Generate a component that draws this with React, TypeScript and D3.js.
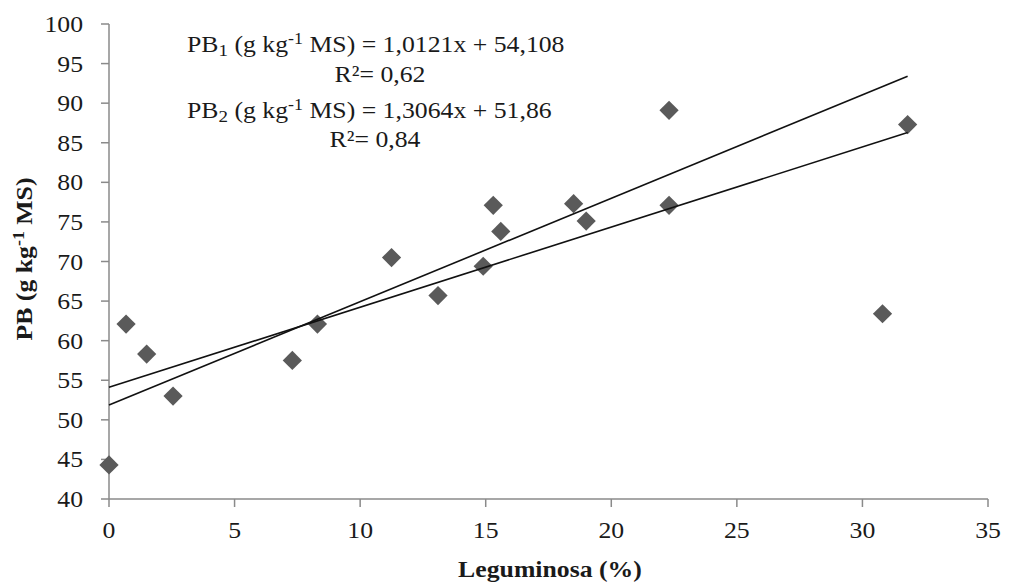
import React from 'react'
import * as d3 from 'd3'

// Leguminosa (%) vs PB (g kg-1 MS)
const leguminosa = [0, 0.68, 1.5, 2.55, 7.3, 8.3, 11.25, 13.1, 14.9, 15.3, 15.6, 18.5, 19.0, 22.3, 22.3, 30.8, 31.8]
const pb = [44.3, 62.1, 58.3, 53.0, 57.5, 62.1, 70.5, 65.7, 69.4, 77.1, 73.8, 77.3, 75.1, 89.1, 77.1, 63.4, 87.3]

// regression lines (slope, intercept)
const fits = [
  { slope: 1.0121, intercept: 54.108 },
  { slope: 1.3064, intercept: 51.86 },
]

const xTicks = [0, 5, 10, 15, 20, 25, 30, 35]
const yTicks = [40, 45, 50, 55, 60, 65, 70, 75, 80, 85, 90, 95, 100]

const W = 1014, H = 586
const margin = { top: 24, right: 26, bottom: 87, left: 109 }
const FS = 23
const SX = 1.12 // text in the source is slightly wide

function T(props: { x: number; y: number; anchor?: string; bold?: boolean; rotate?: number; children: any }) {
  const { x, y, anchor = 'start', bold, rotate = 0, children } = props
  return (
    <text transform={`translate(${x},${y}) rotate(${rotate}) scale(${SX},1)`} textAnchor={anchor}
      fontSize={FS} fontWeight={bold ? 'bold' : 'normal'} fill="#1a1a1a">{children}</text>
  )
}

export default function App() {
  const x = d3.scaleLinear().domain([0, 35]).range([margin.left, W - margin.right])
  const y = d3.scaleLinear().domain([40, 100]).range([H - margin.bottom, margin.top])
  const xMax = d3.max(leguminosa) as number
  const line = d3.line<number[]>().x(d => x(d[0])).y(d => y(d[1]))
  const diamond = d3.symbol().type(d3.symbolSquare).size(185)

  const axisColor = '#8a8a8a'
  const y0 = y(40), x0 = x(0)

  return (
    <svg width={W} height={H} style={{ position: 'absolute', left: 0, top: 0, background: '#fff' }}
      fontFamily={'"Liberation Serif", "Times New Roman", serif'}>
      {/* axes */}
      <line x1={x0} x2={x(35)} y1={y0} y2={y0} stroke={axisColor} strokeWidth={1.5} />
      <line x1={x0} x2={x0} y1={y(100)} y2={y0} stroke={axisColor} strokeWidth={1.5} />
      {xTicks.map(t => (
        <g key={'x' + t}>
          <line x1={x(t)} x2={x(t)} y1={y0} y2={y0 + 8} stroke={axisColor} strokeWidth={1.5} />
          <T x={x(t)} y={y0 + 39} anchor="middle">{t}</T>
        </g>
      ))}
      {yTicks.map(t => (
        <g key={'y' + t}>
          <line x1={x0 - 8} x2={x0} y1={y(t)} y2={y(t)} stroke={axisColor} strokeWidth={1.5} />
          <T x={x0 - 26} y={y(t) + 8} anchor="end">{t}</T>
        </g>
      ))}

      {/* points */}
      {leguminosa.map((v, i) => (
        <path key={'p' + i} d={diamond() as string} transform={`translate(${x(v)},${y(pb[i])}) rotate(45)`} fill="#5a5a5a" />
      ))}

      {/* trend lines */}
      {fits.map((f, i) => (
        <path key={'f' + i} d={line([[0, f.intercept], [xMax, f.intercept + f.slope * xMax]]) as string}
          fill="none" stroke="#111" strokeWidth={1.6} />
      ))}

      {/* equations */}
      <T x={187} y={52}>
        PB<tspan fontSize={17} dy={4}>1</tspan><tspan dy={-4}> (g kg</tspan><tspan fontSize={16} dy={-8}>-1</tspan><tspan dy={8}> MS) = 1,0121x + 54,108</tspan>
      </T>
      <T x={380} y={82} anchor="middle">R²= 0,62</T>
      <T x={187} y={118}>
        PB<tspan fontSize={17} dy={4}>2</tspan><tspan dy={-4}> (g kg</tspan><tspan fontSize={16} dy={-8}>-1</tspan><tspan dy={8}> MS) = 1,3064x + 51,86</tspan>
      </T>
      <T x={375} y={147} anchor="middle">R²= 0,84</T>

      {/* axis titles */}
      <T x={550} y={577} anchor="middle" bold>Leguminosa (%)</T>
      <T x={32} y={259} anchor="middle" bold rotate={-90}>
        PB (g kg<tspan fontSize={16} dy={-8}>-1</tspan><tspan dy={8}> MS)</tspan>
      </T>
    </svg>
  )
}
